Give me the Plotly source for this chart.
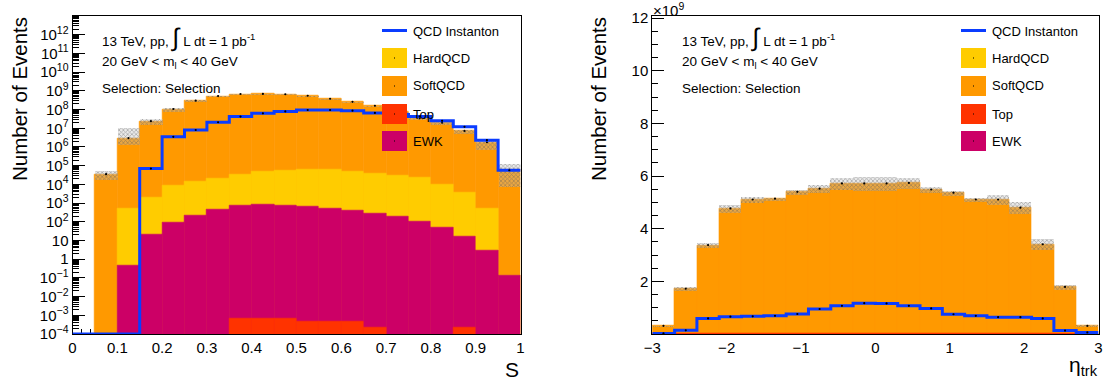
import numpy as np
import plotly.graph_objects as go

W, H = 1106, 385

# ---------------- data: left panel (S, log scale) ----------------
s_edges = [0.0, 0.05, 0.1, 0.15, 0.2, 0.25, 0.3, 0.35, 0.4, 0.45, 0.5,
           0.55, 0.6, 0.65, 0.7, 0.75, 0.8, 0.85, 0.9, 0.95, 1.0]
s_soft = [0, 3.5e4, 3.0e6, 2.4e7, 1.07e8, 3.0e8, 5.3e8, 6.8e8, 6.9e8, 6.6e8,
          5.5e8, 3.8e8, 2.6e8, 1.6e8, 7.5e7, 3.4e7, 2.0e7, 7.2e6, 1.8e6, 5.9e4]
s_hard = [0, 0, 500, 1980, 8400, 13800, 20500, 33300, 47200, 55300,
          63400, 58500, 45600, 38700, 28800, 21900, 9550, 3780, 527, 0]
s_ewk = [0, 0, 0.44, 20, 90, 230, 470, 700, 800, 720,
         650, 520, 390, 280, 190, 100, 48, 16, 3, 0.13]
s_top = [0, 0, 0, 0, 0, 0, 0, 7e-4, 7e-4, 7e-4,
         4.6e-4, 4.6e-4, 4.6e-4, 2.3e-4, 0, 0, 0, 2.3e-4, 0, 0]
s_inst = [0, 0, 0, 7.0e4, 3.5e6, 8.1e6, 2.1e7, 4.2e7, 6.3e7, 8.0e7,
          9.5e7, 9.5e7, 8.7e7, 6.6e7, 5.5e7, 4.2e7, 2.5e7, 1.2e7, 2.3e6, 5.7e4]
s_band_lo = [0, 1.8e4, 1.4e6, 1.6e7, 7.7e7, 2.7e8, 4.9e8, 6.4e8, 6.5e8, 6.2e8,
             5.1e8, 3.5e8, 2.4e8, 1.45e8, 6.8e7, 3.0e7, 1.6e7, 5.4e6, 7.0e5, 7.5e3]
s_band_hi = [0, 5.2e4, 1.07e7, 3.4e7, 1.26e8, 3.3e8, 5.7e8, 7.2e8, 7.3e8, 7.0e8,
             5.9e8, 4.1e8, 2.8e8, 1.75e8, 8.2e7, 3.8e7, 2.35e7, 8.5e6, 2.3e6, 1.35e5]
s_log_range = [-4, 13.03]
s_tick_vals = [1e-4, 1e-3, 1e-2, 1e-1, 1, 10, 1e2, 1e3, 1e4, 1e5, 1e6, 1e7, 1e8, 1e9, 1e10, 1e11, 1e12]
s_tick_text = ["10<sup>\u22124</sup>", "10<sup>\u22123</sup>", "10<sup>\u22122</sup>", "10<sup>\u22121</sup>",
               "1", "10", "10<sup>2</sup>", "10<sup>3</sup>", "10<sup>4</sup>", "10<sup>5</sup>",
               "10<sup>6</sup>", "10<sup>7</sup>", "10<sup>8</sup>", "10<sup>9</sup>", "10<sup>10</sup>",
               "10<sup>11</sup>", "10<sup>12</sup>"]
s_xtick_vals = [0, 0.1, 0.2, 0.3, 0.4, 0.5, 0.6, 0.7, 0.8, 0.9, 1.0]
s_xtick_text = ["0", "0.1", "0.2", "0.3", "0.4", "0.5", "0.6", "0.7", "0.8", "0.9", "1"]

# ---------------- data: right panel (eta_trk, linear, units of 1e9) ----------------
eta_edges = [-3.0, -2.7, -2.4, -2.1, -1.8, -1.5, -1.2, -0.9, -0.6, -0.3, 0.0,
             0.3, 0.6, 0.9, 1.2, 1.5, 1.8, 2.1, 2.4, 2.7, 3.0]
eta_soft = [0.31, 1.72, 3.38, 4.77, 5.11, 5.14, 5.40, 5.52, 5.72, 5.72,
            5.72, 5.74, 5.49, 5.37, 5.11, 5.11, 4.80, 3.41, 1.79, 0.31]
eta_hard = [0, 0.9e-5, 1.8e-5, 2.6e-5, 2.8e-5, 2.9e-5, 3.0e-5, 3.1e-5, 3.2e-5, 3.2e-5,
            3.2e-5, 3.2e-5, 3.1e-5, 3.0e-5, 2.9e-5, 2.8e-5, 2.6e-5, 1.8e-5, 0.9e-5, 0.2e-5]
eta_ewk = [0, 1e-7, 2e-7, 3e-7, 3e-7, 3e-7, 3e-7, 3e-7, 3e-7, 3e-7,
           3e-7, 3e-7, 3e-7, 3e-7, 3e-7, 3e-7, 3e-7, 2e-7, 1e-7, 1e-7]
eta_top = [0, 1e-13, 1e-13, 1e-13, 1e-13, 1e-13, 1e-13, 1e-13, 1e-13, 1e-13,
           1e-13, 1e-13, 1e-13, 1e-13, 1e-13, 1e-13, 1e-13, 1e-13, 1e-13, 1e-13]
eta_err = [0.02, 0.08, 0.11, 0.16, 0.10, 0.06, 0.10, 0.16, 0.22, 0.27,
           0.27, 0.21, 0.10, 0.10, 0.06, 0.18, 0.23, 0.20, 0.10, 0.04]
eta_inst = [0.02, 0.14, 0.59, 0.66, 0.67, 0.69, 0.76, 0.95, 1.07, 1.17,
            1.16, 1.07, 0.97, 0.75, 0.69, 0.64, 0.64, 0.59, 0.13, 0.06]
eta_y_range = [0.0, 12.1]
eta_ytick_vals = [2, 4, 6, 8, 10, 12]
eta_xtick_vals = [-3, -2, -1, 0, 1, 2, 3]
eta_xtick_text = ["\u22123", "\u22122", "\u22121", "0", "1", "2", "3"]

legend_names = ["QCD Instanton", "HardQCD", "SoftQCD", "Top", "EWK"]

# ---------------- style ----------------
C_SOFT = "#ff9900"
C_HARD = "#ffcc00"
C_TOP = "#ff3300"
C_EWK = "#cc0066"
C_INST = "#0a3cff"
FONT = "Liberation Sans, Arial, Helvetica, sans-serif"


def PX(x):
    return x / W


def PY(y):
    return 1 - y / H


fig = go.Figure()


def add_panel(edges, top, ewk, hard, soft, band_lo, band_hi, inst, xa, ya, floor, top_line):
    edges = np.asarray(edges, float)
    c = 0.5 * (edges[:-1] + edges[1:])
    w = np.diff(edges)
    cum_top = np.asarray(top, float)
    cum_ewk = cum_top + np.asarray(ewk, float)
    cum_hard = cum_ewk + np.asarray(hard, float)
    total = cum_hard + np.asarray(soft, float)
    for vals, col in [(total, C_SOFT), (cum_hard, C_HARD), (cum_ewk, C_EWK), (cum_top, C_TOP)]:
        fig.add_trace(go.Bar(x=c, y=vals, width=w, xaxis=xa, yaxis=ya,
                             marker=dict(color=col, line=dict(color=col, width=0.6)),
                             showlegend=False, hoverinfo="skip"))
    if top_line:
        # outline of the (tiny) Top histogram along the bottom of the linear panel
        m = cum_top > 0
        idx = np.where(m)[0]
        xs = edges[idx[0]:idx[-1] + 2]
        ys = np.append(cum_top[idx[0]:idx[-1] + 1], cum_top[idx[-1]])
        fig.add_trace(go.Scatter(x=xs, y=ys, mode="lines", xaxis=xa, yaxis=ya,
                                 line=dict(color=C_TOP, width=2.5, shape="hv"),
                                 showlegend=False, hoverinfo="skip"))
    lo = np.asarray(band_lo, float)
    hi = np.asarray(band_hi, float)
    fig.add_trace(go.Bar(x=c, y=hi - lo, base=lo, width=w, xaxis=xa, yaxis=ya,
                         marker=dict(color="rgba(0,0,0,0)",
                                     line=dict(width=0),
                                     pattern=dict(shape="x", size=3, solidity=0.4,
                                                  fgcolor="#5a5a5a", bgcolor="rgba(190,190,190,0.35)",
                                                  fillmode="overlay")),
                         showlegend=False, hoverinfo="skip"))
    m = total > 0
    fig.add_trace(go.Scatter(x=c[m], y=total[m], mode="markers", xaxis=xa, yaxis=ya,
                             marker=dict(color="black", size=2.2), showlegend=False, hoverinfo="skip"))
    inst = np.asarray(inst, float)
    inst_plot = np.maximum(inst, floor)
    fig.add_trace(go.Scatter(x=edges, y=np.append(inst_plot, inst_plot[-1]), mode="lines",
                             line=dict(color=C_INST, width=3, shape="hv"), xaxis=xa, yaxis=ya,
                             showlegend=False, hoverinfo="skip"))
    mi = inst > 0
    fig.add_trace(go.Scatter(x=c[mi], y=inst[mi], mode="markers", xaxis=xa, yaxis=ya,
                             marker=dict(color="black", size=2.2), showlegend=False, hoverinfo="skip"))


add_panel(s_edges, s_top, s_ewk, s_hard, s_soft, s_band_lo, s_band_hi, s_inst,
          "x", "y", 10 ** s_log_range[0], False)

eta_total = np.asarray(eta_soft) + np.asarray(eta_hard) + np.asarray(eta_ewk) + np.asarray(eta_top)
add_panel(eta_edges, eta_top, eta_ewk, eta_hard, eta_soft,
          eta_total - np.asarray(eta_err), eta_total + np.asarray(eta_err), eta_inst,
          "x2", "y2", eta_y_range[0], True)

ydom = [PY(334), PY(15.5)]
axis_common = dict(showline=True, linecolor="black", linewidth=1, mirror=True,
                   showgrid=False, zeroline=False, ticks="inside", tickcolor="black",
                   tickfont=dict(family=FONT, size=15, color="black"), layer="below traces",
                   automargin=False)

fig.update_layout(
    width=W, height=H, margin=dict(l=0, r=0, t=0, b=0),
    paper_bgcolor="white", plot_bgcolor="white",
    barmode="overlay", bargap=0, showlegend=False,
    font=dict(family=FONT, color="black"),
    xaxis=dict(domain=[PX(72.5), PX(520.5)], range=[0, 1], anchor="y",
               tickvals=s_xtick_vals, ticktext=s_xtick_text, ticklen=10,
               minor=dict(dtick=0.02, ticks="inside", ticklen=5, tickcolor="black"),
               **axis_common),
    yaxis=dict(domain=ydom, type="log", range=s_log_range, anchor="x",
               tickvals=s_tick_vals, ticktext=s_tick_text, ticklen=12,
               minor=dict(tickvals=[k * 10.0 ** n for n in range(-4, 14) for k in range(2, 10)],
                          ticks="inside", ticklen=6, tickcolor="black"),
               **axis_common),
    xaxis2=dict(domain=[PX(652.3), PX(1098.5)], range=[-3, 3], anchor="y2",
                tickvals=eta_xtick_vals, ticktext=eta_xtick_text, ticklen=10,
                minor=dict(dtick=0.2, ticks="inside", ticklen=5, tickcolor="black"),
                **axis_common),
    yaxis2=dict(domain=ydom, range=eta_y_range, anchor="x2",
                tickvals=eta_ytick_vals, ticklen=12,
                minor=dict(dtick=0.5, ticks="inside", ticklen=6, tickcolor="black"),
                **axis_common),
)

annotations = []
shapes = []


def txt(x, y, s, size=13, xanchor="left", yanchor="middle", angle=0):
    annotations.append(dict(x=PX(x), y=PY(y), xref="paper", yref="paper", text=s,
                            showarrow=False, xanchor=xanchor, yanchor=yanchor, textangle=angle,
                            font=dict(family=FONT, size=size, color="black")))


for x0 in (100, 680):
    txt(x0, 37, "13 TeV, pp, <span style='font-size:25px'>\u222b</span> L dt = 1 pb<sup>-1</sup>", size=13.5)
    txt(x0, 62, "20 GeV < m<sub>l</sub> < 40 GeV", size=13.5)
    txt(x0, 89, "Selection: Selection", size=13.5)

# axis titles
txt(19, 15, "Number of Events", size=20.5, xanchor="center", yanchor="top", angle=-90)
txt(598, 15, "Number of Events", size=20.5, xanchor="center", yanchor="top", angle=-90)
txt(521, 369, "S", size=21, xanchor="right")
txt(1100, 366, "\u03b7<sub>trk</sub>", size=21, xanchor="right")
txt(651, 9, "\u00d710<sup>9</sup>", size=15)

# legends
legend_cols = [C_HARD, C_SOFT, C_TOP, C_EWK]
box_tops = [48, 76, 104, 131]
for bx in (382, 961):
    shapes.append(dict(type="line", xref="paper", yref="paper", x0=PX(bx), x1=PX(bx + 25),
                       y0=PY(30.5), y1=PY(30.5), line=dict(color=C_INST, width=3), layer="above"))
    txt(bx + 29, 31.5, legend_names[0])
    for name, col, ty in zip(legend_names[1:], legend_cols, box_tops):
        shapes.append(dict(type="rect", xref="paper", yref="paper", x0=PX(bx), x1=PX(bx + 25),
                           y0=PY(ty + 20), y1=PY(ty), fillcolor=col, line=dict(width=0), layer="above"))
        shapes.append(dict(type="rect", xref="paper", yref="paper", x0=PX(bx + 12), x1=PX(bx + 13),
                           y0=PY(ty + 10.5), y1=PY(ty + 9.5), fillcolor="black", line=dict(width=0),
                           layer="above"))
        txt(bx + 29, ty + 10, name)

fig.update_layout(annotations=annotations, shapes=shapes)
fig.write_html("out.html")
